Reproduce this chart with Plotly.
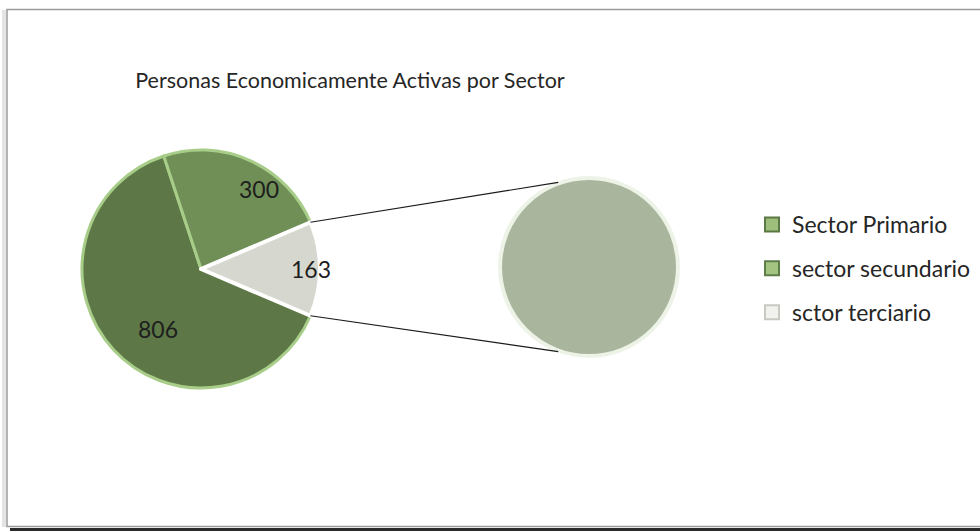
import numpy as np
import plotly.graph_objects as go

# data
sectors = ["Sector Primario", "sector secundario", "sctor terciario"]
workers = [806, 300, 163]
split_sector = "sctor terciario"  # slice broken out into the second pie

slice_colors = ["#5d7846", "#6f8f57", "#d6d8cf"]
slice_edges = ["#a8cd89", "#a8cd89", "#ffffff"]
legend_fill = ["#9ebf7c", "#a4c582", "#f1f1ee"]
legend_edge = ["#5c7845", "#5f7d48", "#c8cac2"]
sub_pie_color = "#a9b69d"

W, H = 980, 531
FONT = "Lato"

# pixel geometry of the two pies
main_c, main_r = (201, 269), 119
sub_c, sub_r = (589, 267), 89


def px(x):
    return x / W


def py(y):
    return 1 - y / H


def pt(c, r, ang):
    """point on circle, ang in plotly degrees (clockwise from 12 o'clock)"""
    a = np.radians(ang)
    return c[0] + r * np.sin(a), c[1] - r * np.cos(a)


total = sum(workers)
fracs = [v / total for v in workers]
split_idx = sectors.index(split_sector)
rotation = 90 + fracs[split_idx] * 180  # put the split slice centred at 3 o'clock

fig = go.Figure()

fig.add_trace(go.Pie(
    labels=sectors, values=workers, sort=False, direction="clockwise",
    rotation=rotation, textinfo="none", showlegend=False, hoverinfo="label+value",
    marker=dict(colors=slice_colors, line=dict(color=slice_edges, width=[3, 3, 4])),
    domain=dict(x=[px(main_c[0] - main_r), px(main_c[0] + main_r)],
                y=[py(main_c[1] + main_r), py(main_c[1] - main_r)]),
))

fig.add_trace(go.Pie(
    labels=[split_sector], values=[workers[split_idx]], sort=False,
    textinfo="none", showlegend=False, hoverinfo="label+value",
    marker=dict(colors=[sub_pie_color], line=dict(color="#eef3e8", width=4)),
    domain=dict(x=[px(sub_c[0] - sub_r), px(sub_c[0] + sub_r)],
                y=[py(sub_c[1] + sub_r), py(sub_c[1] - sub_r)]),
))

# legend entries
for i, s in enumerate(sectors):
    fig.add_trace(go.Scatter(
        x=[None], y=[None], mode="markers", name=s, legendgroup=s,
        marker=dict(symbol="square", size=14, color=legend_fill[i],
                    line=dict(color=legend_edge[i], width=2)),
    ))

# value labels
annotations = []
start = rotation
for v, f in zip(workers, fracs):
    mid = start + f * 180
    x, y = pt(main_c, main_r * 0.74, mid)
    annotations.append(dict(x=px(x), y=py(y), xref="paper", yref="paper", text=str(v),
                            showarrow=False, font=dict(family=FONT, size=23, color="#1e1e1e")))
    start += f * 360

# connector lines
shapes = []
edge_hi = rotation + 360 - fracs[split_idx] * 360
for a_main, a_sub in [(edge_hi, 340), (rotation, 200)]:
    x0, y0 = pt(main_c, main_r, a_main)
    x1, y1 = pt(sub_c, sub_r + 1, a_sub)
    shapes.append(dict(type="line", xref="paper", yref="paper",
                       x0=px(x0), y0=py(y0), x1=px(x1), y1=py(y1),
                       line=dict(color="#1a1a1a", width=1.2)))

# chart frame
shapes.append(dict(type="rect", xref="paper", yref="paper", x0=px(2), x1=px(6),
                   y0=py(527), y1=py(10), fillcolor="#e4e4e4", line=dict(width=0), layer="below"))
shapes.append(dict(type="rect", xref="paper", yref="paper", x0=px(7), x1=px(990),
                   y0=py(526.5), y1=py(9.5), line=dict(color="#9a9a9a", width=1.5)))
shapes.append(dict(type="rect", xref="paper", yref="paper", x0=px(10), x1=px(990),
                   y0=py(535), y1=py(528), fillcolor="#2b2b2b", line=dict(width=0)))

fig.update_layout(
    width=W, height=H, autosize=False,
    margin=dict(l=0, r=0, t=0, b=0),
    paper_bgcolor="white", plot_bgcolor="white",
    title=dict(text="Personas Economicamente Activas por Sector", x=px(350), xanchor="center",
               y=py(80), yanchor="middle", yref="container",
               font=dict(family=FONT, size=21.5, color="#262626")),
    xaxis=dict(visible=False), yaxis=dict(visible=False),
    legend=dict(x=px(752), y=py(203), xanchor="left", yanchor="top",
                tracegroupgap=11, font=dict(family=FONT, size=23, color="#262626"),
                bgcolor="rgba(0,0,0,0)"),
    annotations=annotations, shapes=shapes,
)

# drop the default body margin so the figure sits at the page corner
fig.write_html("out.html", config={"displayModeBar": False},
               post_script="document.body.style.margin='0';")
